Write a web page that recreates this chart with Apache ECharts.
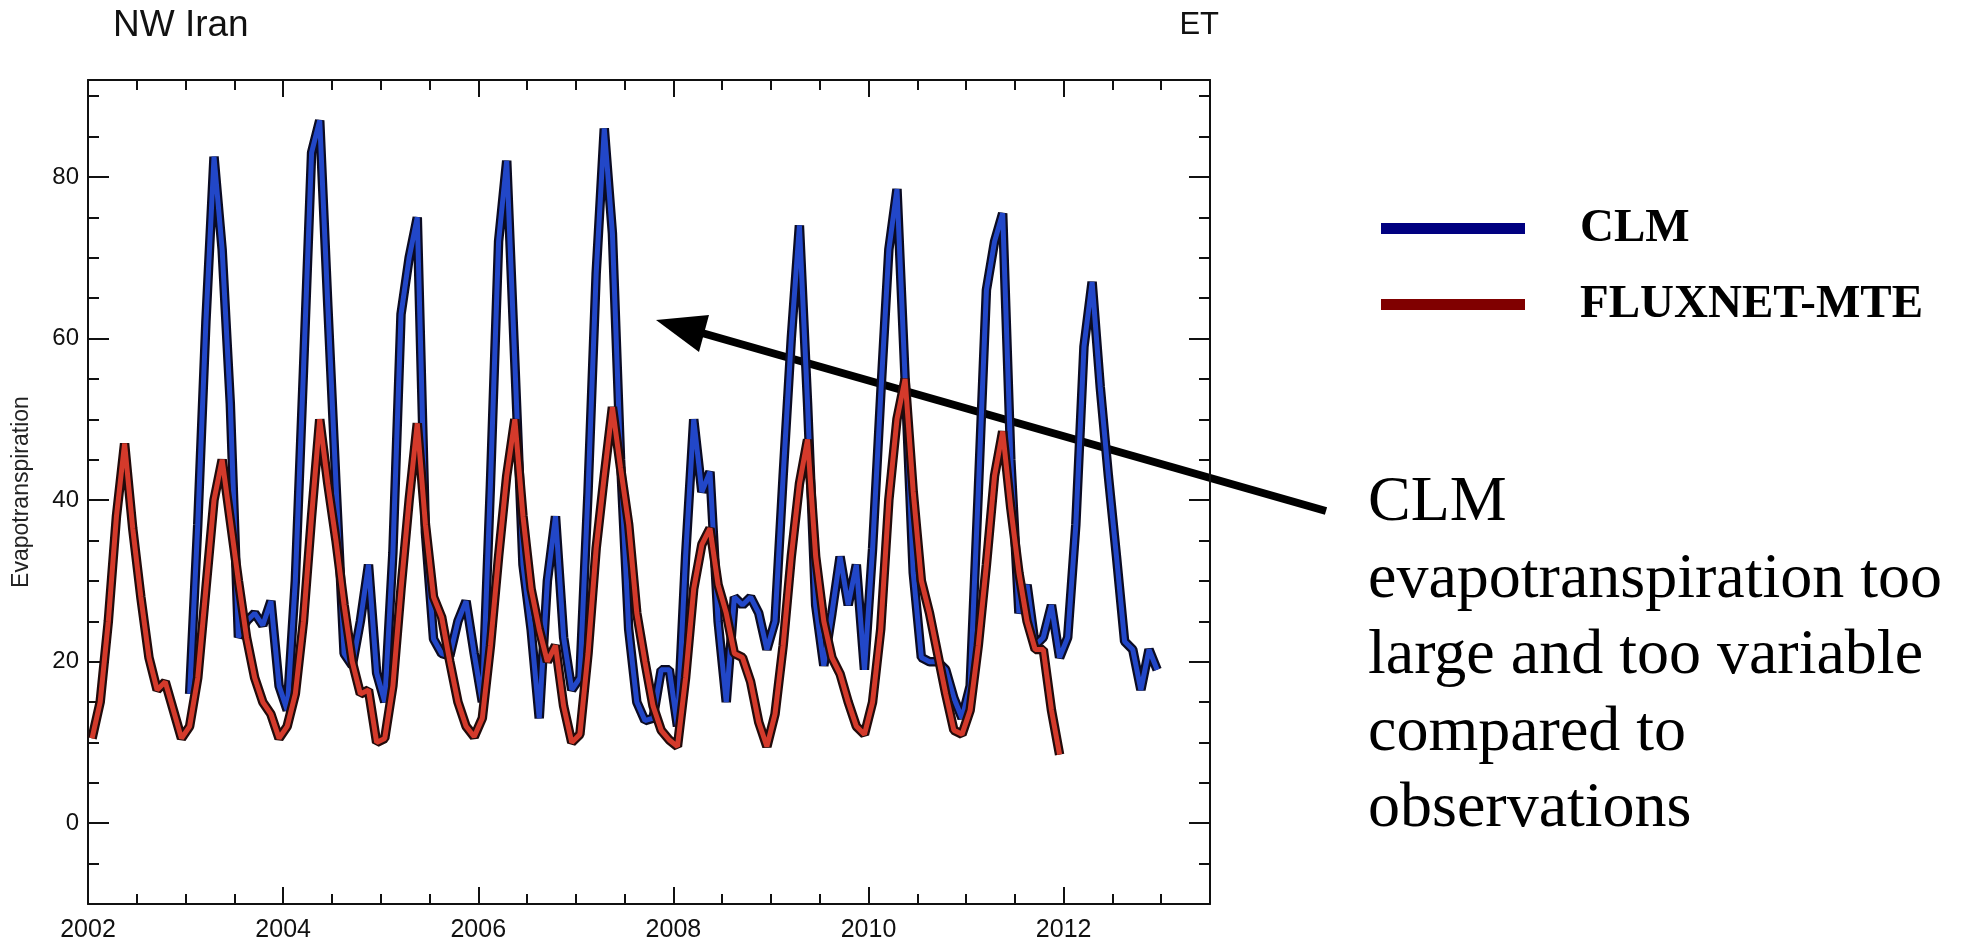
<!DOCTYPE html>
<html>
<head>
<meta charset="utf-8">
<title>NW Iran ET</title>
<script src="https://cdn.jsdelivr.net/npm/echarts@6/dist/echarts.min.js"></script>
<style>
  html, body { margin: 0; padding: 0; background: #fff; }
  #chart { width: 1967px; height: 943px; }
</style>
</head>
<body>
<div id="chart"></div>
<script>
  // monthly ET, one value per month from January of the start year
  const fluxStart = 2002;
  const fluxnet = [
    10.5, 15, 25, 38, 47, 36.5, 28, 20.5, 16.5, 17.5, 14, 10.5,
    12, 18, 29, 40, 45, 37.5, 30, 23, 18, 15, 13.5, 10.5,
    12, 16, 25, 38, 50, 42, 35, 27, 20, 16, 16.5, 10,
    10.5, 17, 29, 40, 49.5, 37, 28, 25.5, 20, 15, 12, 10.7,
    13, 22, 33, 43, 50, 38, 29, 24, 20, 22, 14.5, 10,
    11, 21, 34, 43, 51.5, 44, 37, 26, 20, 14.5, 11.5, 10.3,
    9.5, 18, 29, 34.5, 36.5, 29.5, 26, 21, 20.5, 17.5, 12.5, 9.5,
    13.5, 22, 33, 42, 47.5, 33, 25, 20.5, 18.5, 15, 12, 11,
    15, 24, 40, 50, 55, 41, 30, 26, 21, 16, 11.5, 11,
    14, 22, 32, 43, 48.5, 39, 31, 25, 21.5, 21.5, 14, 8.5
  ];
  const clmStart = 2003;
  const clm = [
    16, 37, 62, 82.5, 71, 52, 23, 25, 26, 24.5, 27.5, 17,
    14, 30, 56, 83, 87, 64, 42, 21, 19.5, 25, 32, 18.6,
    15, 33.5, 63, 70, 75, 36, 22.8, 21, 20.7, 25, 27.5, 21,
    15, 42, 72, 82, 57, 32, 24, 13, 30, 38, 23, 16.5,
    18, 41, 68, 86, 73, 45, 24, 15, 12.7, 13, 19, 19,
    12, 33, 50, 41, 43.5, 25, 15, 28, 27, 28, 26, 21.5,
    25, 43, 60, 74, 52, 27, 19.5, 26, 33, 27, 32, 19,
    34, 53, 71, 78.5, 55, 31, 20.5, 20, 20, 19, 15.5, 13,
    17, 41, 66, 72, 75.5, 45, 26, 29.5, 22, 23, 27, 20.5,
    23, 37, 59, 67, 54, 43, 33, 22.5, 21.5, 16.5, 21.5, 19
  ];
  const yLabelValues = [0, 20, 40, 60, 80];
  const noteLines = [
    'CLM',
    'evapotranspiration too',
    'large and too variable',
    'compared to',
    'observations'
  ];

  // mid-month position on the decimal year axis
  const toPoints = (start, values) => values.map((v, i) => [start + (i + 0.5) / 12, v]);

  const axisColor = '#111';
  const tickFont = { color: '#111', fontFamily: 'Liberation Sans', fontSize: 25 };

  const makeX = (position, major) => ({
    type: 'value',
    position: position,
    min: 2002,
    max: 2013.5,
    interval: major ? 2 : 0.5,
    axisLine: { show: !major, onZero: false, lineStyle: { color: axisColor, width: 2 } },
    axisTick: { inside: true, length: major ? 17 : 10, lineStyle: { color: axisColor, width: 2 } },
    axisLabel: {
      show: major && position === 'bottom',
      margin: 14,
      ...tickFont,
      formatter: (v) => (v % 2 === 0 ? String(v) : ''),
    },
    splitLine: { show: false },
  });

  const makeY = (position, major) => {
    const axis = {
      type: 'value',
      position: position,
      min: -10,
      max: 92,
      axisLine: { show: !major, onZero: false, lineStyle: { color: axisColor, width: 2 } },
      axisTick: { inside: true, length: major ? 21 : 11, lineStyle: { color: axisColor, width: 2 } },
      axisLabel: { show: false },
      splitLine: { show: false },
    };
    if (major) {
      axis.axisTick.customValues = yLabelValues;
      axis.axisLabel = {
        show: position === 'left',
        customValues: yLabelValues,
        margin: 9,
        ...tickFont,
        fontSize: 24,
      };
    } else {
      axis.interval = 5;
    }
    return axis;
  };

  const lineSeries = (name, start, values, color, width, z) => ({
    name: name,
    type: 'line',
    data: toPoints(start, values),
    xAxisIndex: 0,
    yAxisIndex: 0,
    showSymbol: false,
    silent: true,
    z: z,
    lineStyle: { color: color, width: width, join: 'bevel' },
    itemStyle: { color: color },
  });

  const chart = echarts.init(document.getElementById('chart'));

  const yLeft = makeY('left', true);
  yLeft.name = 'Evapotranspiration';
  yLeft.nameLocation = 'middle';
  yLeft.nameGap = 55;
  yLeft.nameRotate = 90;
  yLeft.nameTextStyle = { color: '#222', fontFamily: 'Liberation Sans', fontSize: 23 };

  const option = {
    backgroundColor: '#fff',
    animation: false,
    title: [
      {
        text: 'NW Iran',
        left: 113,
        top: 7,
        padding: 0,
        textStyle: { color: '#111', fontFamily: 'Liberation Sans', fontWeight: 'normal', fontSize: 37, lineHeight: 37 },
      },
      {
        text: 'ET',
        right: 748,
        top: 10,
        padding: 0,
        textStyle: { color: '#111', fontFamily: 'Liberation Sans', fontWeight: 'normal', fontSize: 31, lineHeight: 31 },
      },
    ],
    legend: {
      orient: 'vertical',
      left: 1376,
      top: 200,
      icon: 'rect',
      itemWidth: 144,
      itemHeight: 11,
      itemGap: 29,
      selectedMode: false,
      textStyle: {
        color: '#000',
        fontFamily: 'Liberation Serif',
        fontWeight: 'bold',
        fontSize: 47,
        lineHeight: 47,
        padding: [0, 0, 0, 50],
      },
      data: [
        { name: 'CLM', itemStyle: { color: '#000080', borderWidth: 0 } },
        { name: 'FLUXNET-MTE', itemStyle: { color: '#800000', borderWidth: 0 } },
      ],
    },
    grid: { left: 88, right: 757, top: 80, bottom: 36, containLabel: false },
    xAxis: [makeX('bottom', false), makeX('bottom', true), makeX('top', false), makeX('top', true)],
    yAxis: [makeY('left', false), yLeft, makeY('right', false), makeY('right', true)],
    series: [
      lineSeries('CLM-edge', clmStart, clm, '#0b0b22', 9.5, 2),
      lineSeries('CLM', clmStart, clm, '#2247c8', 5, 3),
      lineSeries('FLUXNET-MTE-edge', fluxStart, fluxnet, '#220b0b', 9.5, 4),
      lineSeries('FLUXNET-MTE', fluxStart, fluxnet, '#d43a2b', 5, 5),
    ],
    graphic: [
      {
        type: 'line',
        shape: { x1: 1326, y1: 511, x2: 702, y2: 333 },
        style: { stroke: '#000', lineWidth: 8 },
      },
      {
        type: 'polygon',
        shape: { points: [[656, 320], [709, 315], [699, 352]] },
        style: { fill: '#000' },
      },
      {
        type: 'text',
        left: 1368,
        top: 465,
        style: {
          text: noteLines.join('\n'),
          fontFamily: 'Liberation Serif',
          fontSize: 64,
          lineHeight: 76.5,
          fill: '#000',
        },
      },
    ],
  };

  chart.setOption(option);
</script>
</body>
</html>
